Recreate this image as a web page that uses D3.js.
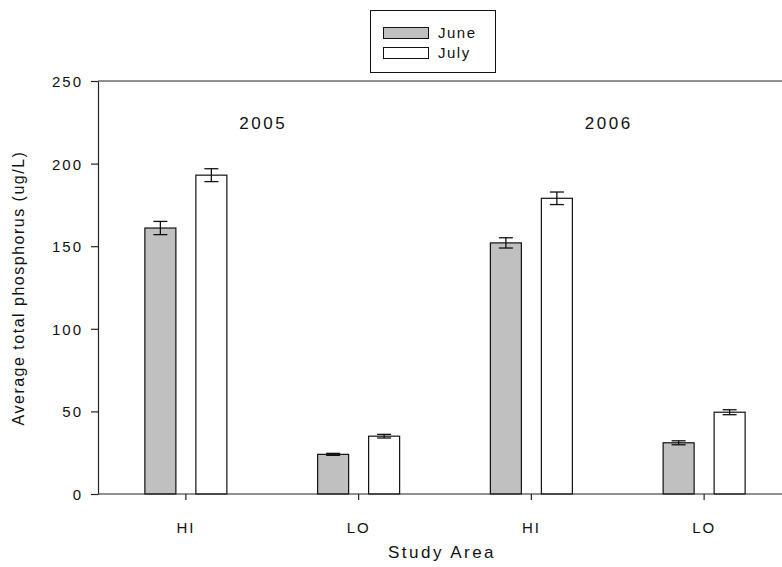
<!DOCTYPE html>
<html>
<head>
<meta charset="utf-8">
<script src="https://cdn.jsdelivr.net/npm/d3@7"></script>
<style>
  body { margin: 0; background: white; }
  text { font-family: "Liberation Sans", Arial, sans-serif; fill: #111; }
</style>
</head>
<body>
<script>
// data
const groups = ["2005-HI", "2005-LO", "2006-HI", "2006-LO"];
const groupLabels = ["HI", "LO", "HI", "LO"];
const months = ["June", "July"];
const juneVals = [161, 24, 152, 31];
const julyVals = [193, 35, 179, 49.5];
const juneErr = [4, 0.6, 3.1, 1.2];
const julyErr = [3.9, 1.1, 3.8, 1.5];
const years = ["2005", "2006"];
const yTicks = [0, 50, 100, 150, 200, 250];
const colors = { June: "#c0c0c0", July: "#ffffff" };

let width = 782, height = 567;
let svg = d3.select("body").append("svg")
    .attr("width", width)
    .attr("height", height);

let x0 = 98, yTop = 81, yBot = 494;

let x = d3.scaleBand().domain(groups).range([99.5, 790.5]);
let xs = d3.scaleBand().domain(months).range([-41, 41]).paddingInner(0.392);
let y = d3.scaleLinear().domain([0, 250]).range([yBot, yTop]);

// flatten rows
let rows = [];
groups.forEach((g, i) => {
    rows.push({ g: g, m: "June", v: juneVals[i], e: juneErr[i] });
    rows.push({ g: g, m: "July", v: julyVals[i], e: julyErr[i] });
});
const cx = d => x(d.g) + x.bandwidth() / 2 + xs(d.m);

// bars
svg.selectAll("rect.bar").data(rows).enter().append("rect")
    .attr("class", "bar")
    .attr("x", d => cx(d))
    .attr("y", d => y(d.v))
    .attr("width", xs.bandwidth())
    .attr("height", d => y(0) - y(d.v))
    .attr("fill", d => colors[d.m])
    .attr("stroke", "#111")
    .attr("stroke-width", 1.2);

// error bars
let eb = svg.append("g").attr("stroke", "#111").attr("stroke-width", 1.3);
rows.forEach(d => {
    let mx = cx(d) + xs.bandwidth() / 2;
    eb.append("line").attr("x1", mx).attr("x2", mx).attr("y1", y(d.v + d.e)).attr("y2", y(d.v - d.e));
    eb.append("line").attr("x1", mx - 7).attr("x2", mx + 7).attr("y1", y(d.v + d.e)).attr("y2", y(d.v + d.e));
    eb.append("line").attr("x1", mx - 7).attr("x2", mx + 7).attr("y1", y(d.v - d.e)).attr("y2", y(d.v - d.e));
});

// y axis
let yAxis = d3.axisLeft(y).tickValues(yTicks).tickSize(7).tickPadding(8).tickSizeOuter(0);
let gy = svg.append("g").attr("transform", `translate(${x0},0)`).call(yAxis);
gy.selectAll("text").style("font-size", "15px").style("letter-spacing", "2px").attr("dy", "0.36em");
gy.selectAll("line, path").attr("stroke", "#222").attr("stroke-width", 1.2);

// x axis
let xAxis = d3.axisBottom(x).tickFormat((d, i) => groupLabels[i]).tickSize(6).tickPadding(22).tickSizeOuter(0);
let gx = svg.append("g").attr("transform", `translate(0,${yBot})`).call(xAxis);
gx.select("path.domain").attr("d", `M${x0},0H${width}`);
gx.selectAll("text").style("font-size", "15px").style("letter-spacing", "2px");
gx.selectAll("line, path").attr("stroke", "#222").attr("stroke-width", 1.2);

// top line
svg.append("line").attr("x1", x0).attr("x2", width).attr("y1", yTop).attr("y2", yTop)
    .attr("stroke", "#222").attr("stroke-width", 1.2);

// year labels
years.forEach((yr, i) => {
    let gl = [groups[i * 2], groups[i * 2 + 1]];
    let mid = (x(gl[0]) + x(gl[1]) + x.bandwidth()) / 2;
    svg.append("text")
        .attr("x", mid - 9).attr("y", 129)
        .attr("text-anchor", "middle")
        .style("font-size", "17px").style("letter-spacing", "2.5px")
        .text(yr);
});

// axis titles
svg.append("text")
    .attr("transform", "translate(24,288) rotate(-90)")
    .attr("text-anchor", "middle")
    .style("font-size", "16px").style("letter-spacing", "1.5px")
    .text("Average total phosphorus (ug/L)");
svg.append("text")
    .attr("x", 442).attr("y", 558)
    .attr("text-anchor", "middle")
    .style("font-size", "17px").style("letter-spacing", "2.5px")
    .text("Study Area");

// legend
let lg = svg.append("g");
lg.append("rect").attr("x", 370.5).attr("y", 10.5).attr("width", 125).attr("height", 62)
    .attr("fill", "white").attr("stroke", "#111").attr("stroke-width", 1);
months.forEach((m, i) => {
    lg.append("rect").attr("x", 383.5).attr("y", 27.5 + i * 20).attr("width", 45).attr("height", 11)
        .attr("fill", colors[m]).attr("stroke", "#111").attr("stroke-width", 1);
    lg.append("text").attr("x", 438).attr("y", 38 + i * 20)
        .style("font-size", "15px").style("letter-spacing", "1.5px")
        .text(m);
});
</script>
</body>
</html>
